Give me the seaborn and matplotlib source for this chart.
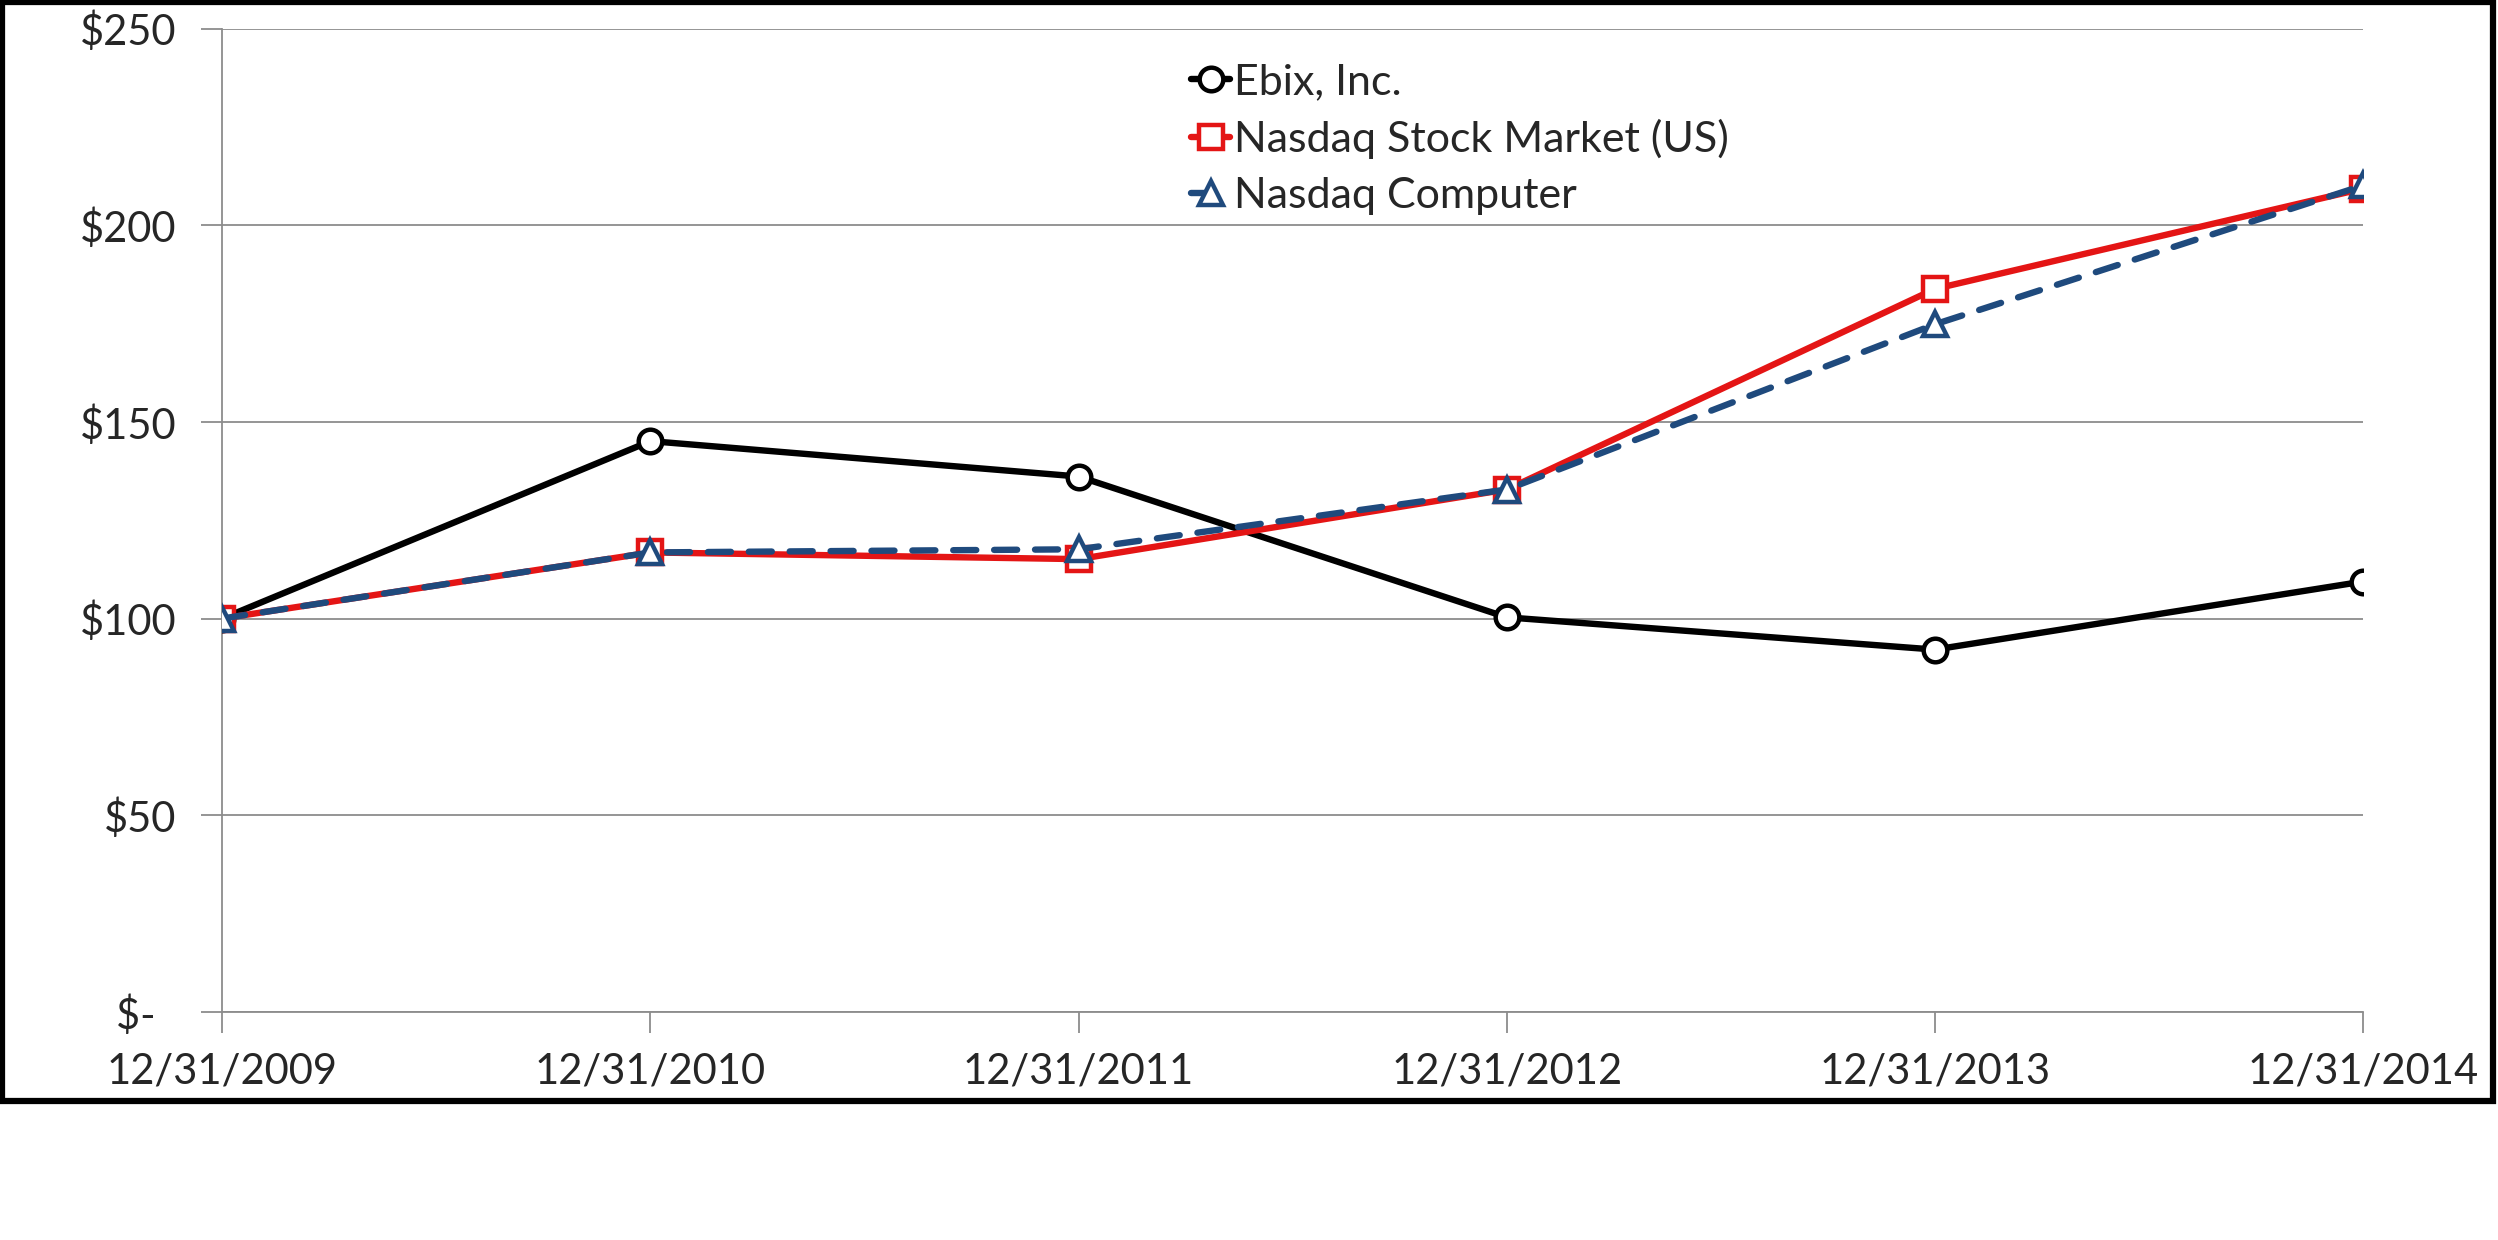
import matplotlib
matplotlib.use("Agg")
import matplotlib.pyplot as plt
import seaborn as sns
import pandas as pd
from matplotlib.patches import Rectangle

dates = ["12/31/2009", "12/31/2010", "12/31/2011", "12/31/2012", "12/31/2013", "12/31/2014"]
ebix = [100, 145.1, 136.1, 100.3, 92.1, 109.4]
nasdaq_us = [100, 116.8, 115.1, 132.8, 183.8, 209.3]
nasdaq_computer = [100, 116.8, 117.6, 132.8, 174.8, 210.1]
y_ticks = [0, 50, 100, 150, 200, 250]
y_labels = ["$-  ", "$50", "$100", "$150", "$200", "$250"]

sns.set_theme(style="white")
plt.rcParams["font.family"] = ["Lato", "DejaVu Sans"]

fig = plt.figure(figsize=(24.98, 12.4), dpi=100)
ax = fig.add_axes([0.089, 0.184, 0.857, 0.793])

x = list(range(len(dates)))
series = [
    ("Ebix, Inc.", ebix, "black", "o", "-"),
    ("Nasdaq Stock Market (US)", nasdaq_us, "#E41515", "s", "-"),
    ("Nasdaq Computer", nasdaq_computer, "#1F4A7D", "^", "--"),
]
for name, vals, col, mk, ls in series:
    df = pd.DataFrame({"x": x, "y": vals})
    sns.lineplot(data=df, x="x", y="y", ax=ax, color=col, marker=mk,
                 markersize=17, markerfacecolor="white", markeredgecolor=col,
                 markeredgewidth=3.2, linewidth=4.6, label=name, zorder=3)
    l = ax.lines[-1]
    if ls == "--":
        l.set_dashes([3.6, 2.8])
        l.set_dash_capstyle("round")

ax.set_xlim(0, len(dates) - 1)
ax.set_ylim(0, 250)
ax.set_xticks(x)
ax.set_xticklabels(dates, fontsize=30)
ax.set_yticks(y_ticks)
ax.set_yticklabels(y_labels, fontsize=30)
ax.set_xlabel("")
ax.set_ylabel("")

ax.grid(axis="y", color="#8c8c8c", linewidth=1.3)
ax.grid(axis="x", visible=False)
for s in ["top", "right"]:
    ax.spines[s].set_visible(False)
for s in ["left", "bottom"]:
    ax.spines[s].set_color("#8c8c8c")
    ax.spines[s].set_linewidth(1.3)
ax.tick_params(axis="x", which="major", direction="out", length=15, width=1.3,
               color="#8c8c8c", pad=14, bottom=True)
ax.tick_params(axis="y", which="major", direction="out", length=15, width=1.3,
               color="#8c8c8c", pad=18, left=True)

leg = ax.legend(loc="upper left", bbox_to_anchor=(0.47, 0.963), bbox_transform=fig.transFigure,
                frameon=False, fontsize=31, handlelength=0.9, handletextpad=0.1,
                labelspacing=0.42, borderaxespad=0)

fig.patches.append(Rectangle((0.001, 0.112), 0.997, 0.886, transform=fig.transFigure,
                             fill=False, edgecolor="black", linewidth=4.5))

fig.savefig("out.png", dpi=100)
